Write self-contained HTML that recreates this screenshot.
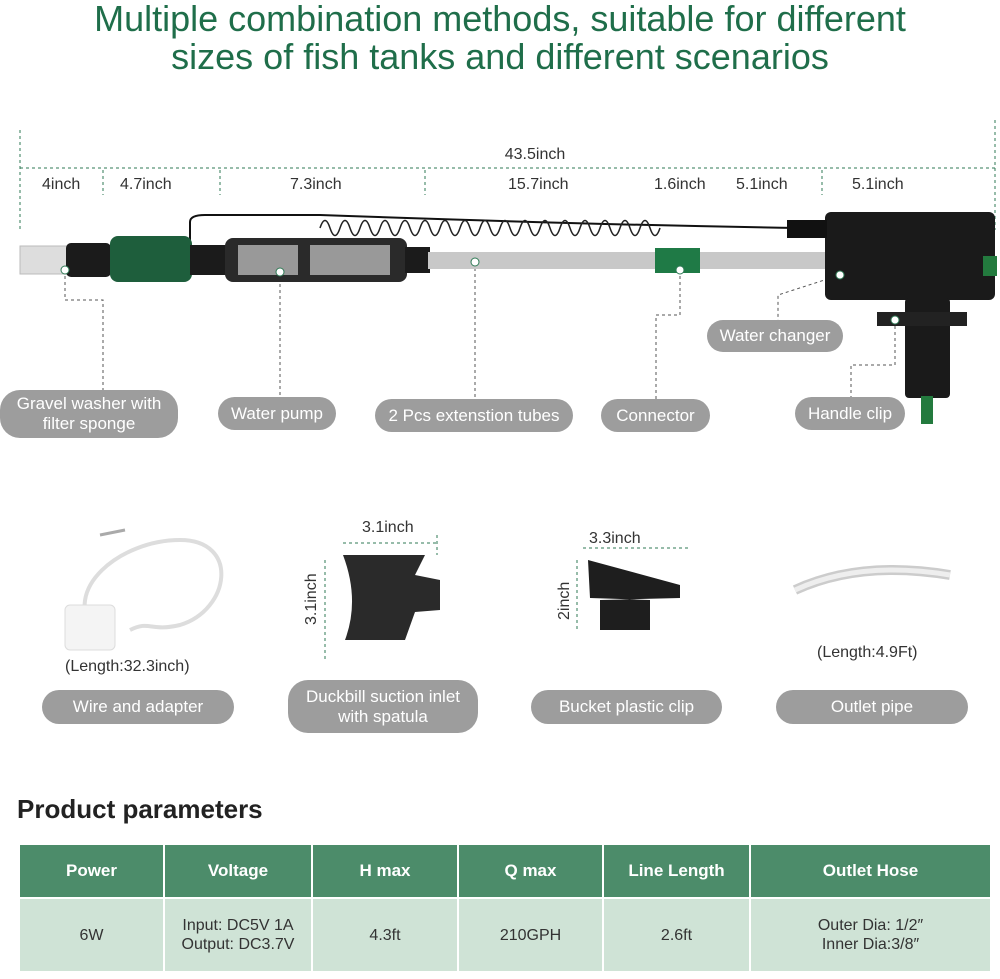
<!DOCTYPE html>
<html><head><meta charset="utf-8"><style>
body{margin:0;width:1000px;height:979px;background:#fff;position:relative;overflow:hidden;font-family:"Liberation Sans",sans-serif}
.a{position:absolute}
.t{color:#1f6e4a;font-size:36px;text-align:center;width:1000px;left:0}
.d{font-size:16px;color:#333}
.p{position:absolute;background:#9d9d9d;color:#fff;font-size:17px;border-radius:20px;text-align:center;display:flex;align-items:center;justify-content:center;line-height:20px}
table{position:absolute;left:18px;top:843px;width:974px;border-collapse:collapse;font-size:16px;text-align:center}
th{background:#4c8c6a;color:#fff;height:52px;padding:0;border:2px solid #fff;font-size:17px}
td{background:#cfe3d6;color:#333;height:72px;padding:0;border:2px solid #fff;line-height:19px}
</style></head><body>
<div class="a t" style="top:0;line-height:38px">Multiple combination methods, suitable for different<br>sizes of fish tanks and different scenarios</div>
<svg class="a" style="left:0;top:0" width="1000" height="979">
<g stroke="#2f7a55" stroke-dasharray="3,3" fill="none" stroke-width="1">
<line x1="20" y1="168" x2="995" y2="168"/><line x1="20" y1="130" x2="20" y2="230"/><line x1="995" y1="120" x2="995" y2="230"/>
<line x1="103" y1="170" x2="103" y2="195"/><line x1="220" y1="170" x2="220" y2="195"/><line x1="425" y1="170" x2="425" y2="195"/><line x1="822" y1="170" x2="822" y2="195"/>
<line x1="343" y1="543" x2="437" y2="543"/><line x1="325" y1="560" x2="325" y2="660"/><line x1="437" y1="535" x2="437" y2="555"/>
<line x1="583" y1="548" x2="690" y2="548"/><line x1="577" y1="560" x2="577" y2="630"/>
</g>
<g stroke="#555" stroke-dasharray="3,3" fill="none">
<polyline points="65,270 65,300 103,300 103,390"/><line x1="280" y1="272" x2="280" y2="397"/><line x1="475" y1="262" x2="475" y2="399"/>
<polyline points="680,270 680,315 656,315 656,399"/><polyline points="840,275 778,295 778,320"/><polyline points="895,320 895,365 851,365 851,397"/>
</g>
<path d="M190,240 L190,222 Q190,215 205,215 L320,215 Q600,225 800,228" stroke="#111" stroke-width="2" fill="none"/>
<path d="M320,228 q5,-15 10,0 q5,15 10,0 q5,-15 10,0 q5,15 10,0 q5,-15 10,0 q5,15 10,0 q5,-15 10,0 q5,15 10,0 q5,-15 10,0 q5,15 10,0 q5,-15 10,0 q5,15 10,0 q5,-15 10,0 q5,15 10,0 q5,-15 10,0 q5,15 10,0 q5,-15 10,0 q5,15 10,0 q5,-15 10,0 q5,15 10,0 q5,-15 10,0 q5,15 10,0 q5,-15 10,0 q5,15 10,0 q5,-15 10,0 q5,15 10,0 q5,-15 10,0 q5,15 10,0 q5,-15 10,0 q5,15 10,0 q5,-15 10,0 q5,15 10,0 q5,-15 10,0 q5,15 10,0" stroke="#222" stroke-width="1.5" fill="none"/>
<rect x="20" y="246" width="48" height="28" fill="#ddd" stroke="#bbb"/>
<rect x="66" y="243" width="45" height="34" rx="5" fill="#1b1b1b"/>
<rect x="110" y="236" width="82" height="46" rx="8" fill="#1e5e3c"/>
<rect x="190" y="245" width="36" height="30" fill="#1b1b1b"/>
<rect x="225" y="238" width="182" height="44" rx="8" fill="#2a2a2a"/>
<rect x="238" y="245" width="60" height="30" fill="#999"/><rect x="310" y="245" width="80" height="30" fill="#999"/>
<rect x="405" y="247" width="25" height="26" fill="#1b1b1b"/>
<rect x="428" y="252" width="400" height="17" fill="#c8c8c8"/>
<rect x="655" y="248" width="45" height="25" fill="#1f7a46"/>
<rect x="825" y="212" width="170" height="88" rx="6" fill="#1a1a1a"/>
<rect x="787" y="220" width="40" height="18" fill="#111"/>
<rect x="983" y="256" width="14" height="20" fill="#237a3e"/>
<rect x="905" y="298" width="45" height="100" rx="4" fill="#1a1a1a"/>
<rect x="877" y="312" width="90" height="14" fill="#222"/>
<rect x="921" y="396" width="12" height="28" fill="#237a3e"/>
<circle cx="65" cy="270" r="4" fill="#fff" stroke="#2f7a55"/><circle cx="280" cy="272" r="4" fill="#fff" stroke="#2f7a55"/><circle cx="475" cy="262" r="4" fill="#fff" stroke="#2f7a55"/><circle cx="680" cy="270" r="4" fill="#fff" stroke="#2f7a55"/><circle cx="840" cy="275" r="4" fill="#fff" stroke="#2f7a55"/><circle cx="895" cy="320" r="4" fill="#fff" stroke="#2f7a55"/>
<path d="M95,632 C60,590 120,540 180,540 C240,540 230,610 180,625 C150,632 150,620 130,630" stroke="#ddd" stroke-width="4" fill="none"/>
<line x1="100" y1="535" x2="125" y2="530" stroke="#aaa" stroke-width="3"/>
<rect x="65" y="605" width="50" height="45" rx="5" fill="#f4f4f4" stroke="#ddd"/>
<path d="M343,555 L425,555 L415,575 L440,580 L440,610 L415,612 L405,640 L345,640 Q360,600 343,555Z" fill="#2a2a2a"/>
<path d="M588,560 L680,585 L680,598 L600,600 L600,630 L650,630 L650,600 L590,598Z" fill="#1e1e1e"/>
<path d="M795,590 Q860,560 950,575" stroke="#ccc" stroke-width="10" fill="none"/>
<path d="M795,590 Q860,560 950,575" stroke="#eee" stroke-width="5" fill="none"/>
</svg>
<div class="a d" style="left:535px;top:146px;width:0"><span style="position:absolute;transform:translateX(-50%)">43.5inch</span></div>
<div class="a d" style="left:42px;top:176px">4inch</div>
<div class="a d" style="left:120px;top:176px">4.7inch</div>
<div class="a d" style="left:290px;top:176px">7.3inch</div>
<div class="a d" style="left:508px;top:176px">15.7inch</div>
<div class="a d" style="left:654px;top:176px">1.6inch</div>
<div class="a d" style="left:736px;top:176px">5.1inch</div>
<div class="a d" style="left:852px;top:176px">5.1inch</div>
<div class="p" style="left:0;top:390px;width:178px;height:48px">Gravel washer with<br>filter sponge</div>
<div class="p" style="left:218px;top:397px;width:118px;height:33px">Water pump</div>
<div class="p" style="left:375px;top:399px;width:198px;height:33px">2 Pcs extenstion tubes</div>
<div class="p" style="left:601px;top:399px;width:109px;height:33px">Connector</div>
<div class="p" style="left:707px;top:320px;width:136px;height:32px">Water changer</div>
<div class="p" style="left:795px;top:397px;width:110px;height:33px">Handle clip</div>
<div class="a d" style="left:362px;top:519px">3.1inch</div>
<div class="a d" style="left:303px;top:625px;transform:rotate(-90deg);transform-origin:left top">3.1inch</div>
<div class="a d" style="left:589px;top:530px">3.3inch</div>
<div class="a d" style="left:556px;top:620px;transform:rotate(-90deg);transform-origin:left top">2inch</div>
<div class="a d" style="left:65px;top:658px">(Length:32.3inch)</div>
<div class="a d" style="left:817px;top:644px">(Length:4.9Ft)</div>
<div class="p" style="left:42px;top:690px;width:192px;height:34px">Wire and adapter</div>
<div class="p" style="left:288px;top:680px;width:190px;height:53px">Duckbill suction inlet<br>with spatula</div>
<div class="p" style="left:531px;top:690px;width:191px;height:34px">Bucket plastic clip</div>
<div class="p" style="left:776px;top:690px;width:192px;height:34px">Outlet pipe</div>
<div class="a" style="left:17px;top:794px;font-size:26px;font-weight:bold;color:#222">Product parameters</div>
<table><tr><th style="width:143px">Power</th><th style="width:146px">Voltage</th><th style="width:144px">H max</th><th style="width:143px">Q max</th><th style="width:145px">Line Length</th><th>Outlet Hose</th></tr>
<tr><td>6W</td><td>Input: DC5V 1A<br>Output: DC3.7V</td><td>4.3ft</td><td>210GPH</td><td>2.6ft</td><td>Outer Dia: 1/2″<br>Inner Dia:3/8″</td></tr></table>
</body></html>
